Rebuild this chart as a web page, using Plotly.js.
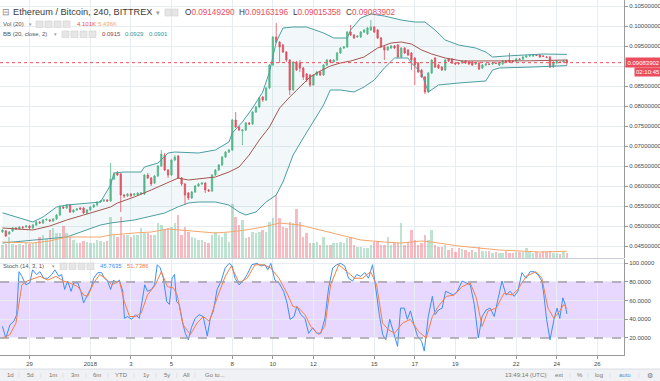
<!DOCTYPE html>
<html><head><meta charset="utf-8">
<script src="https://cdn.plot.ly/plotly-3.0.1.min.js"></script>
<style>html,body{margin:0;padding:0;background:#fff;}#chart{width:660px;height:381px;}</style>
</head><body><div id="chart"></div>
<script>
// ---------- DATA (ETH/BTC, 4h bars, Bittrex) ----------
const firstBar = '2017-12-27 16:00'; // time of bar 0, bars every 4 hours
const opens = [0.0485,0.04875,0.048,0.04875,0.0495,0.04925,0.04975,0.04975,0.05,0.0495,
0.05025,0.051,0.05075,0.0515,0.0515,0.05125,0.05175,0.05275,0.05475,0.0545,
0.05525,0.0535,0.054,0.0545,0.0545,0.05325,0.054,0.05475,0.05525,0.056,
0.05625,0.0565,0.05625,0.06175,0.06325,0.063,0.05775,0.0575,0.058,0.05775,
0.05775,0.058,0.058,0.06275,0.062,0.06075,0.0625,0.065,0.06775,0.064,
0.06275,0.0665,0.0675,0.062,0.0605,0.05825,0.057,0.0585,0.06,0.0605,
0.06075,0.059,0.05875,0.06275,0.064,0.06525,0.06725,0.0685,0.069,0.0765,
0.07475,0.07375,0.074,0.07575,0.0755,0.0785,0.07975,0.08225,0.0815,0.0845,
0.09025,0.09725,0.096,0.09525,0.0935,0.0915,0.084,0.091,0.09075,0.0895,
0.088,0.08775,0.08525,0.08775,0.0885,0.08775,0.09025,0.0915,0.091,0.0915,
0.09325,0.0945,0.09475,0.0985,0.09775,0.09725,0.09725,0.0985,0.098,0.099,
0.09975,0.099,0.097,0.09475,0.094,0.0945,0.095,0.09525,0.09225,0.0945,
0.094,0.09325,0.092,0.09075,0.089,0.08725,0.0835,0.08825,0.092,0.09025,
0.08975,0.089,0.09175,0.09175,0.09075,0.09075,0.09075,0.09125,0.091,0.091,
0.0905,0.09075,0.0895,0.09025,0.0905,0.0905,0.09075,0.09025,0.0905,0.09125,
0.0915,0.09125,0.09125,0.09175,0.09175,0.09225,0.0925,0.0925,0.09275,0.09275,
0.0925,0.09225,0.09225,0.08975,0.09075,0.091,0.091,0.0914929];
const highs = [0.04925,0.049,0.04875,0.04975,0.04975,0.05,0.05,0.05025,0.05025,0.0505,
0.05125,0.05125,0.05175,0.052,0.05175,0.052,0.053,0.05525,0.055,0.0555,
0.0555,0.05425,0.0545,0.05475,0.05475,0.05425,0.055,0.0555,0.05625,0.0565,
0.05675,0.05675,0.06575,0.0635,0.06375,0.06325,0.058,0.05825,0.05825,0.05825,
0.0585,0.0585,0.063,0.06325,0.06225,0.06275,0.06525,0.069,0.06825,0.06425,
0.06675,0.06775,0.06775,0.06225,0.06075,0.0585,0.05875,0.06025,0.06075,0.061,
0.061,0.05925,0.063,0.06425,0.0655,0.0675,0.06875,0.06925,0.07675,0.0785,
0.075,0.07425,0.076,0.076,0.07875,0.08,0.08225,0.0825,0.08475,0.0905,
0.0975,0.10075,0.09625,0.0955,0.09375,0.09175,0.09125,0.09125,0.0915,0.08975,
0.08825,0.088,0.088,0.08875,0.08875,0.0905,0.09175,0.09175,0.09175,0.0935,
0.09475,0.095,0.09875,0.10025,0.098,0.09775,0.09875,0.09925,0.09975,0.1015,
0.1,0.09925,0.09725,0.095,0.095,0.09525,0.09525,0.0955,0.09475,0.09475,
0.09425,0.0935,0.09225,0.091,0.08925,0.0875,0.0885,0.09175,0.09225,0.0905,
0.09,0.09175,0.092,0.092,0.091,0.091,0.0915,0.0915,0.09125,0.09125,
0.091,0.091,0.0905,0.09075,0.09075,0.091,0.091,0.091,0.0915,0.0915,
0.09325,0.0915,0.092,0.092,0.0925,0.09275,0.093,0.093,0.093,0.093,
0.09275,0.0925,0.0925,0.09125,0.0915,0.09125,0.0915,0.09163196];
const lows = [0.04825,0.04725,0.04775,0.0485,0.049,0.049,0.04925,0.0495,0.04925,0.04925,
0.05,0.0505,0.0505,0.05125,0.051,0.051,0.0515,0.0525,0.05425,0.05425,
0.05325,0.05325,0.05375,0.054,0.053,0.053,0.05375,0.0545,0.055,0.05575,
0.056,0.056,0.056,0.0615,0.0625,0.0535,0.057,0.05725,0.05725,0.0575,
0.0575,0.05775,0.05775,0.06175,0.06,0.0605,0.06225,0.06475,0.06375,0.062,
0.0625,0.06625,0.06175,0.06,0.05525,0.0565,0.05675,0.05825,0.05975,0.06025,
0.05825,0.0585,0.0585,0.0625,0.06375,0.065,0.067,0.06825,0.06875,0.0745,
0.07375,0.07025,0.07375,0.07525,0.07525,0.07825,0.0795,0.081,0.08125,0.08425,
0.09,0.09575,0.09075,0.09325,0.091,0.08275,0.08375,0.08875,0.0885,0.0865,
0.086,0.08475,0.085,0.0875,0.0875,0.0875,0.09,0.09075,0.09075,0.09125,
0.093,0.09425,0.0945,0.0975,0.09675,0.097,0.097,0.09825,0.09775,0.09875,
0.09825,0.09675,0.0945,0.0915,0.09375,0.09425,0.09425,0.092,0.092,0.093,
0.0925,0.089,0.08525,0.08825,0.087,0.083,0.08325,0.088,0.0895,0.08925,
0.08875,0.08875,0.091,0.0905,0.09025,0.09025,0.0905,0.0905,0.09025,0.09,
0.09025,0.089,0.08925,0.09,0.09025,0.09025,0.0905,0.09,0.09025,0.091,
0.09075,0.091,0.091,0.0915,0.0915,0.092,0.09225,0.09225,0.0925,0.092,
0.09225,0.092,0.0895,0.0895,0.0905,0.09075,0.09075,0.09015358];
const closes = [0.049,0.0475,0.0485,0.0495,0.04925,0.04975,0.04963,0.05,0.0495,0.05025,
0.051,0.05075,0.0515,0.05163,0.05125,0.05175,0.05275,0.05475,0.0545,0.05525,
0.0535,0.054,0.05425,0.05425,0.05325,0.054,0.05475,0.05525,0.056,0.05625,
0.0565,0.05625,0.06175,0.063,0.06275,0.05775,0.0575,0.058,0.0575,0.058,
0.05825,0.05825,0.06275,0.062,0.0605,0.0625,0.065,0.068,0.064,0.06275,
0.0665,0.06725,0.062,0.0605,0.05775,0.057,0.0585,0.06,0.0605,0.06075,
0.059,0.05875,0.06275,0.064,0.06525,0.06725,0.0685,0.069,0.0765,0.07475,
0.074,0.074,0.07575,0.0755,0.0785,0.07975,0.082,0.0815,0.0845,0.09025,
0.09725,0.096,0.09475,0.0935,0.0915,0.084,0.091,0.089,0.0895,0.08725,
0.0865,0.08525,0.08775,0.0885,0.08775,0.09025,0.0915,0.091,0.0915,0.09325,
0.0945,0.09475,0.0985,0.09775,0.097,0.0975,0.0985,0.099,0.0995,0.09975,
0.0985,0.097,0.09475,0.094,0.09475,0.095,0.0945,0.09225,0.0945,0.09325,
0.09275,0.0915,0.09025,0.0885,0.08725,0.0835,0.08825,0.0915,0.08975,0.0895,
0.089,0.0915,0.09125,0.09075,0.0905,0.09063,0.09125,0.09075,0.0905,0.09025,
0.09075,0.08925,0.09025,0.0905,0.09038,0.09075,0.09063,0.09075,0.09125,0.09113,
0.091,0.09113,0.09175,0.09163,0.09225,0.0925,0.09263,0.09275,0.09263,0.09225,
0.09238,0.09213,0.08975,0.091,0.09125,0.09088,0.09125,0.09083902];
// volume in thousands (K)
const volumes = [10.4,11.2,16.8,11.2,10.4,11.2,10.4,12,11.2,12,
12.8,16.8,18.4,15.2,22.4,24,20,20,25.6,20,
16.8,14.4,12,12,13.6,12.8,12,12,14.4,13.6,
12.8,13.6,32.8,18.4,16.8,32.8,18.4,18.4,16.8,18.4,
18.4,24,20,20,18.4,18.4,28,26.4,22.4,24,
24.8,28,34.4,18.4,24.8,20.8,16.8,16,14.4,14.4,
12.8,12,18.4,20.8,18.4,16.8,20,12.8,43.2,32.8,
26.4,30.4,16,16.8,20.8,20,20.8,22.4,20.8,28.8,
32,50.4,32,24.8,24,28.8,28,39.2,28.8,16.8,
20,12,12,12.8,10.4,16.8,10.4,10.4,12,12,
12.8,12,16,16.8,10.4,8.8,8.8,8,8,10.4,
12.8,13.6,10.4,10.4,16.8,10.4,12,12,28,10.4,
12.8,22.4,14.4,10.4,12,18.4,14.4,22.4,10.4,8.8,
8.8,10.4,6.4,8,4.8,8,7.2,6.4,4.8,6.4,
4.8,8.8,5.6,5.6,5.6,4,4.8,4,4,5.6,
4,4,4.8,4.8,4.8,8,5.6,4,4.8,4,
5.6,4.8,5.6,4,4,3.2,4.8,4.101];
// indicator readings, located by bar number (time in 4h bars since firstBar)
const volMaBars = [0,9,14,19,29,32,39,44,49,57,63,67,72,77,82,88,94,101,106,113,118,124,127,135,141,147,159,167];
const volMaVals = [12.8,12,13.6,16.8,16.8,18.4,20,20.8,23.2,21.6,20,20.8,22.4,24.8,28,26.4,22.4,17.6,14.4,12.8,12,13.6,12.8,9.6,8,6.4,4.8,5.436];
const bbUpperBars = [0,9,12,16,19,29,32,33,36,41,42,46,49,51,58,63,67,68,71,74,77,79,81,83,86,90,95,98,102,103,106,109,113,118,122,125,128,131,135,140,143,145,149,155,160,167];
const bbUpperVals = [0.0533,0.051,0.05225,0.05475,0.05525,0.056,0.06025,0.06325,0.0635,0.0635,0.06475,0.06575,0.06825,0.0685,0.06825,0.069,0.071,0.07325,0.076,0.0795,0.0835,0.0885,0.096,0.0995,0.09975,0.09975,0.09825,0.097,0.097,0.099,0.102,0.103,0.1025,0.1015,0.101,0.101,0.099,0.0965,0.09525,0.0945,0.0935,0.09225,0.0925,0.09275,0.093,0.0929];
const bbMidBars = [0,9,14,19,24,29,32,34,39,44,49,52,55,58,63,67,70,73,76,79,82,85,88,91,94,97,100,103,107,111,115,118,121,124,127,131,136,147,156,167];
const bbMidVals = [0.0495,0.049,0.05,0.0515,0.05275,0.054,0.05475,0.05575,0.05725,0.059,0.06075,0.062,0.0615,0.06175,0.06225,0.0635,0.06475,0.06775,0.0715,0.07475,0.0795,0.08225,0.08475,0.08725,0.08875,0.09,0.09075,0.09125,0.09225,0.0945,0.09575,0.096,0.0955,0.094,0.093,0.092,0.09125,0.09125,0.0913,0.0915];
const bbLowerBars = [0,9,19,29,32,39,48,52,55,58,63,67,70,72,75,78,81,83,86,89,92,95,97,100,104,107,110,113,116,120,121,124,126,129,135,143,145,147,157,162,167];
const bbLowerVals = [0.04575,0.0465,0.04725,0.05025,0.05075,0.0515,0.05325,0.0548,0.05575,0.056,0.056,0.05525,0.0535,0.05275,0.0535,0.056,0.05775,0.061,0.06775,0.072,0.076,0.08025,0.084,0.084,0.0835,0.08475,0.0865,0.0895,0.092,0.092,0.09075,0.08825,0.0835,0.08525,0.08575,0.08625,0.089,0.0895,0.08975,0.09,0.0901];
const stochKBars = [0,1,2.2,3.4,4.2,4.9,5.75,6.9,8.1,8.9,10.1,11.1,12.2,13.4,14.6,15.5,16.7,17.5,18.4,19.3,20.3,21.1,22.3,23.2,24,25,26.2,27,28.2,29.3,30.2,31.1,32,32.9,33.7,34.6,35.6,36.1,37,38.2,39.4,40.5,41.5,42.1,42.9,44.1,45,45.8,46.7,47.6,48.6,49.4,50.2,50.9,51.5,52.3,53.2,54.1,55,55.9,57,58.2,59.4,60.6,61.5,62.4,63.5,64.7,65.9,67.1,68,68.8,70,71.2,72.4,73.8,75.3,76.5,77.7,78.5,79.4,80.6,81.8,83.2,84.2,85.1,86.3,87.1,88.3,89.5,90.6,91.8,93,94.2,95.4,96.5,97.7,98.9,100.1,101.3,102.4,103.6,104.8,106,107.2,108.3,109.5,110.7,111.5,112.5,113.4,114.6,115.8,116.9,117.8,118.9,119.8,120.7,121.9,122.8,124,124.8,126,127.2,128,129,130.1,131.1,132.3,133.4,134.6,136,137.2,138.4,139.6,140.8,141.9,143.1,144.3,145.5,146.7,147.8,149,150.2,151.4,152.5,153.7,154.9,156.1,157.3,158.4,159.6,160.2,161,162,163.2,164.1,164.9,165.8,166.5,167];
const stochKVals = [32.5,20,34,38,45,91,86,77,79,93,88,91,84,84,88,93,86,88,72,81,70,79,79,70,57.5,64.6,73.6,84,90,90,84,81,72,82,79,82,70,41,43,40,45,41,61,77,70,72,77,98.5,95,84,59,56,84,88,59,56,38,25,18,31,41,45,43,22,41,49,72,81,95,100,97,84,77,81,88,98.5,100,97,98.5,93,100,82,79,70,57.5,40,43,54,45,41,25,31,25,25,41,73.6,95,98.5,100,97,84,81,88,86,90,84,98.5,66,45,23.6,18,40,25,11,52,52,40,49,32.5,22,16.5,6,43,64.6,45,50,52,70,68,66,70,81,79,77,56,20,43,50,52,43,63,81,66,70,64.6,70,90,84,91,91,88,81,66,40,18,40,52,41,63,56,45.7635];
const stochDBars = [0,2.2,4,5.75,7.3,9.3,11.1,13.4,15.8,18.1,19.9,22.3,24,25.2,27,28.75,30.5,32.3,34.6,36.05,37.6,39.4,41.1,42.9,45.25,47,48.8,50.6,51.7,53.5,55.6,57.6,59.4,61.2,63.5,65.9,67.7,70,72.4,74.7,77.1,79.4,81.8,84.2,85.9,87.7,89.5,91.2,93.6,95.4,97.1,99.5,101.8,104.2,106.6,108.9,110.7,112.45,114.2,116,118.4,120.7,123.1,125.4,127.2,129,131.3,133.7,136,138.4,140.2,141.9,143.7,146.1,148.4,150.8,152.5,154.9,157.9,159.6,161.4,163.15,164.9,166.1,167];
const stochDVals = [20,23.6,36,77,81,84,86,82,86,81,79,75,66,64.6,79,88,84,77,81,59,43,43,47,66,77,91,75,73.6,66,34,23.6,36,43,38,63,86,97,79,84,98.5,98.5,95,84,68,54,52,45,32.5,23.6,32.5,77,98.5,91,84,84,91,77,36,29,25,36,40,27,20,43,54,64.6,66,75,79,63,32.5,49,52,68,66,72,86,91,84,52,41,49,56,51.7386];
const lastPrice = 0.09083902;
const dayTicks = ['2017-12-29','2018-01-01','2018-01-03','2018-01-05','2018-01-08','2018-01-10','2018-01-12','2018-01-15','2018-01-17','2018-01-19','2018-01-22','2018-01-24','2018-01-26'];
const dayLabels = ['29','2018','3','5','8','10','12','15','17','19','22','24','26'];
const priceTicks = [0.045,0.05,0.055,0.06,0.065,0.07,0.075,0.08,0.085,0.09,0.095,0.1,0.105];
const stochTicks = [20,40,60,80,100];

// ---------- helpers ----------
const T0 = Date.parse(firstBar.replace(' ', 'T') + ':00Z');
const H4 = 4 * 3600 * 1000;
function barTime(pos) { return new Date(T0 + pos * H4).toISOString().replace('T', ' ').slice(0, 19); }
const barTimes = closes.map((_, i) => barTime(i));

const FONT = 'Liberation Sans, Arial, sans-serif';
const GREEN = '#53b987', RED = '#eb4d5c';
const GRID = '#e8edf2';
const W = 624, HH = 355;
const px = x => x / W;
const py = y => 1 - y / HH;

const traces = [
  {type:'scatter', mode:'lines', x:bbUpperBars.map(barTime), y:bbUpperVals, line:{color:'#4a9fa3', width:1}, hoverinfo:'skip'},
  {type:'scatter', mode:'lines', x:bbLowerBars.map(barTime), y:bbLowerVals, line:{color:'#4a9fa3', width:1}, fill:'tonexty', fillcolor:'rgba(74,159,163,0.07)', hoverinfo:'skip'},
  {type:'scatter', mode:'lines', x:bbMidBars.map(barTime), y:bbMidVals, line:{color:'#a4564f', width:1}, hoverinfo:'skip'},
  {type:'candlestick', x:barTimes, open:opens, high:highs, low:lows, close:closes,
   increasing:{line:{color:GREEN, width:0.8}, fillcolor:GREEN},
   decreasing:{line:{color:RED, width:0.8}, fillcolor:RED}, hoverinfo:'skip'},
  {type:'bar', x:barTimes, y:volumes, yaxis:'y3', width:H4*0.72,
   marker:{color:closes.map((c, i) => c >= opens[i] ? 'rgba(83,185,135,0.38)' : 'rgba(235,77,92,0.38)'), line:{width:0}}, hoverinfo:'skip'},
  {type:'scatter', mode:'lines', x:volMaBars.map(barTime), y:volMaVals, yaxis:'y3', line:{color:'#f5a66c', width:1}, hoverinfo:'skip'},
  {type:'scatter', mode:'lines', x:stochKBars.map(barTime), y:stochKVals, yaxis:'y2', line:{color:'#3d8ff5', width:1}, hoverinfo:'skip'},
  {type:'scatter', mode:'lines', x:stochDBars.map(barTime), y:stochDVals, yaxis:'y2', line:{color:'#f57f45', width:1}, hoverinfo:'skip'}
];

function txt(x, y, text, color, size, anchor, extra) {
  return Object.assign({xref:'paper', yref:'paper', x:px(x), y:py(y), text:text, showarrow:false,
    xanchor:anchor || 'left', yanchor:'middle', font:{family:FONT, size:size, color:color}, borderpad:0}, extra || {});
}
function rect(x0, y0, x1, y1, fill, lineColor) {
  return {type:'rect', xref:'paper', yref:'paper', x0:px(x0), x1:px(x1), y0:py(y1), y1:py(y0),
    fillcolor:fill, line:{color:lineColor || fill, width:lineColor ? 0.6 : 0}, layer:'above'};
}

const shapes = [
  {type:'rect', xref:'paper', x0:0, x1:1, yref:'y2', y0:20, y1:80, fillcolor:'rgba(160,90,255,0.24)', line:{width:0}, layer:'below'},
  {type:'line', xref:'paper', x0:0, x1:1, yref:'y2', y0:80, y1:80, line:{color:'#a49fa9', width:1.3, dash:'dash'}},
  {type:'line', xref:'paper', x0:0, x1:1, yref:'y2', y0:20, y1:20, line:{color:'#a49fa9', width:1.3, dash:'dash'}},
  {type:'line', xref:'paper', x0:0, x1:1, yref:'paper', y0:py(258.5), y1:py(258.5), line:{color:'#c9ccd0', width:1}},
  {type:'line', xref:'paper', x0:0, x1:1, yref:'y', y0:lastPrice, y1:lastPrice, line:{color:'#eb4d5c', width:1, dash:'dot'}},
  // bottom toolbar
  rect(0, 369, 660, 381, '#eff1f4'),
  {type:'line', xref:'paper', yref:'paper', x0:0, x1:px(660), y0:py(369), y1:py(369), line:{color:'#dadde2', width:1}},
  // legend icon boxes
  rect(165, 9, 171, 16, '#e6e6e6', '#d0d0d0'), rect(172, 9, 178, 16, '#e6e6e6', '#d0d0d0'),
  rect(36, 21, 43, 27.5, '#e6e6e6', '#d0d0d0'), rect(45, 21, 52, 27.5, '#e6e6e6', '#d0d0d0'), rect(54, 21, 61, 27.5, '#e6e6e6', '#d0d0d0'), rect(63, 21, 70, 27.5, '#e6e6e6', '#d0d0d0'),
  rect(62, 31, 69, 37.5, '#e6e6e6', '#d0d0d0'), rect(71, 31, 78, 37.5, '#e6e6e6', '#d0d0d0'), rect(80, 31, 87, 37.5, '#e6e6e6', '#d0d0d0'), rect(89, 31, 96, 37.5, '#e6e6e6', '#d0d0d0'),
  rect(60, 263, 67, 269.5, '#e6e6e6', '#d0d0d0'), rect(69, 263, 76, 269.5, '#e6e6e6', '#d0d0d0'), rect(78, 263, 85, 269.5, '#e6e6e6', '#d0d0d0'), rect(87, 263, 94, 269.5, '#e6e6e6', '#d0d0d0')
];

const DK = '#3a3a3a', GR = '#777';
const annotations = [
  txt(1, 12.5, '⊟', '#888', 9),
  txt(12, 12.5, 'Ethereum / Bitcoin, 240, BITTREX', DK, 9.2),
  txt(155, 12.5, '▾', '#999', 7),
  txt(184, 12.5, 'O<span style="color:#eb4d5c">0.09149290</span>', DK, 8.2),
  txt(238, 12.5, 'H<span style="color:#eb4d5c">0.09163196</span>', DK, 8.2),
  txt(292, 12.5, 'L<span style="color:#eb4d5c">0.09015358</span>', DK, 8.2),
  txt(345, 12.5, 'C<span style="color:#eb4d5c">0.09083902</span>', DK, 8.2),
  txt(2, 24, 'Vol (20)', '#555', 6),
  txt(28, 24, '▾', '#999', 5),
  txt(76, 24, '4.101K', '#eb4d5c', 6),
  txt(97, 24, '5.436K', '#f5a66c', 6),
  txt(2, 34.5, 'BB (20, close, 2)', '#555', 6),
  txt(53, 34.5, '▾', '#999', 5),
  txt(101, 34.5, '0.0915', '#8f3f3c', 6),
  txt(124, 34.5, '0.0929', '#3a9598', 6),
  txt(148, 34.5, '0.0901', '#3a9598', 6),
  txt(2, 266, 'Stoch (14, 3, 1)', '#555', 6),
  txt(51, 266, '▾', '#999', 5),
  txt(99, 266, '45.7635', '#3d8ff5', 6),
  txt(126, 266, '51.7386', '#f57f45', 6),
  {xref:'paper', yref:'y', x:px(625), y:lastPrice, text:'0.09083902', showarrow:false, xanchor:'left', yanchor:'middle',
   font:{family:FONT, size:6, color:'#ffffff'}, bgcolor:'#eb4d5c', borderpad:1.5},
  txt(634, 72, '02:10:45', '#ffffff', 6, 'left', {bgcolor:'#eb4d5c', borderpad:1}),
  // toolbar
  txt(10.5, 375, '1d', GR, 6, 'center'), txt(19, 375, '|', '#cfd2d6', 6, 'center'),
  txt(31, 375, '5d', GR, 6, 'center'), txt(41, 375, '|', '#cfd2d6', 6, 'center'),
  txt(52.6, 375, '1m', GR, 6, 'center'), txt(63, 375, '|', '#cfd2d6', 6, 'center'),
  txt(75, 375, '3m', GR, 6, 'center'), txt(85.5, 375, '|', '#cfd2d6', 6, 'center'),
  txt(97, 375, '6m', GR, 6, 'center'), txt(108, 375, '|', '#cfd2d6', 6, 'center'),
  txt(121, 375, 'YTD', GR, 6, 'center'), txt(134, 375, '|', '#cfd2d6', 6, 'center'),
  txt(145.6, 375, '1y', GR, 6, 'center'), txt(155.7, 375, '|', '#cfd2d6', 6, 'center'),
  txt(166.7, 375, '5y', GR, 6, 'center'), txt(177, 375, '|', '#cfd2d6', 6, 'center'),
  txt(186.5, 375, 'All', GR, 6, 'center'), txt(195, 375, '|', '#cfd2d6', 6, 'center'),
  txt(214.6, 375, 'Go to...', GR, 6, 'center'),
  txt(525, 375, '13:49:14 (UTC)', GR, 6, 'center'), txt(547, 375, '|', '#cfd2d6', 6, 'center'),
  txt(558.5, 375, 'ext', GR, 6, 'center'), txt(570, 375, '|', '#cfd2d6', 6, 'center'),
  txt(580, 375, '%', GR, 6, 'center'), txt(588, 375, '|', '#cfd2d6', 6, 'center'),
  txt(599, 375, 'log', GR, 6, 'center'), txt(610, 375, '|', '#cfd2d6', 6, 'center'),
  txt(625, 375, 'auto', '#3c9ad8', 6, 'center'), txt(638.5, 375, '|', '#cfd2d6', 6, 'center'),
  txt(650, 375, '⚙', GR, 7, 'center')
];

const axisCommon = {showgrid:true, gridcolor:GRID, gridwidth:1, zeroline:false, fixedrange:true,
  ticks:'outside', ticklen:3, tickcolor:'#9a9a9a', tickfont:{family:FONT, size:6, color:'#4a4a4a'},
  showline:true, linecolor:'#9a9a9a', linewidth:1};

// the 0.09 price label is covered by the last-price marker in the reference
const priceText = priceTicks.map(v => Math.abs(v - 0.09) < 1e-9 ? '' : v.toFixed(8));

const layout = {
  width:660, height:381, margin:{l:0, r:36, t:0, b:26},
  paper_bgcolor:'#ffffff', plot_bgcolor:'#ffffff', showlegend:false,
  font:{family:FONT}, boxgap:0.45, bargap:0,
  xaxis: Object.assign({}, axisCommon, {type:'date', anchor:'y2', domain:[0,1],
    range:[barTime(-0.728), barTime(183.9)], tickmode:'array', tickvals:dayTicks, ticktext:dayLabels,
    rangeslider:{visible:false}}),
  yaxis: Object.assign({}, axisCommon, {domain:[0.2732, 1], range:[0.042, 0.1065], side:'right', anchor:'x',
    tickmode:'array', tickvals:priceTicks, ticktext:priceText}),
  yaxis2: Object.assign({}, axisCommon, {domain:[0, 0.2704], range:[1.79, 104.6], side:'right', anchor:'x',
    tickmode:'array', tickvals:stochTicks, ticktext:stochTicks.map(v => v.toFixed(4))}),
  yaxis3: {overlaying:'y', range:[0, 206.4], visible:false, fixedrange:true, showgrid:false},
  shapes:shapes, annotations:annotations
};

Plotly.newPlot('chart', traces, layout, {staticPlot:true, displayModeBar:false});
</script>
</body></html>
